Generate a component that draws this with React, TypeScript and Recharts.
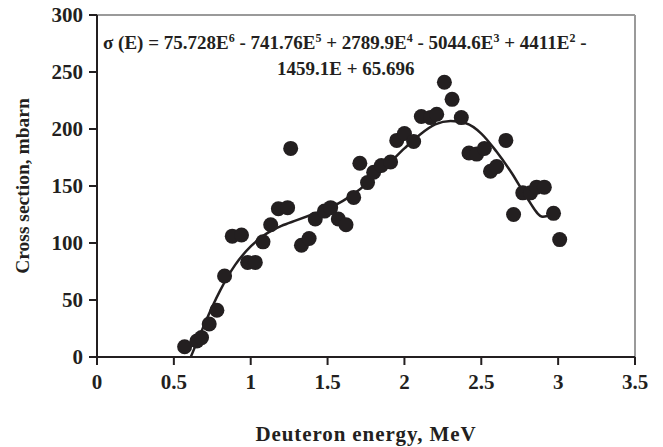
import React from "react";
import {
    ComposedChart,
    Scatter,
    Line,
    XAxis,
    YAxis,
    ReferenceLine,
} from "recharts";

if (typeof document !== "undefined") {
    document.body.style.margin = "0";
}

// measured cross sections (MeV, mbarn)
const energy = [
    0.57, 0.65, 0.68, 0.73, 0.78, 0.83, 0.88, 0.94, 0.98, 1.03,
    1.08, 1.13, 1.18, 1.24, 1.26, 1.33, 1.38, 1.42, 1.48, 1.52,
    1.57, 1.62, 1.67, 1.71, 1.76, 1.8, 1.85, 1.91, 1.95, 2.0,
    2.06, 2.11, 2.17, 2.21, 2.26, 2.31, 2.37, 2.42, 2.47, 2.52,
    2.56, 2.6, 2.66, 2.71, 2.77, 2.82, 2.86, 2.91, 2.97, 3.01,
];
const sigma = [
    9, 14, 17, 29, 41, 71, 106, 107, 83, 83,
    101, 116, 130, 131, 183, 98, 104, 121, 128, 131,
    121, 116, 140, 170, 153, 162, 168, 171, 190, 196,
    189, 211, 210, 213, 241, 226, 210, 179, 178, 183,
    163, 167, 190, 125, 144, 144, 149, 149, 126, 103,
];

// fitted trend line
const fitEnergy = [
    0.61, 0.65, 0.7, 0.8, 0.9, 1.0, 1.1, 1.2, 1.3, 1.4, 1.5, 1.6, 1.7,
    1.8, 1.9, 2.0, 2.1, 2.2, 2.3, 2.4, 2.5, 2.6, 2.7, 2.8, 2.9, 2.97,
];
const fitSigma = [
    0, 13, 29, 58, 81, 97, 108, 115, 120, 125, 130, 137, 146,
    158, 170, 183, 195, 204, 207, 205, 196, 180, 161, 139, 123, 126,
];

const xTicks = [0, 0.5, 1, 1.5, 2, 2.5, 3, 3.5];
const yTicks = [0, 50, 100, 150, 200, 250, 300];

const points = energy.map((x, i) => ({ x, y: sigma[i] }));
const fit = fitEnergy.map((x, i) => ({ x, fit: fitSigma[i] }));

const font = "'Liberation Serif', 'Times New Roman', serif";
const ink = "#231f20";

const tickStyle = { fill: ink, fontSize: 21, fontWeight: 700, fontFamily: font };

const supStyle: React.CSSProperties = { fontSize: 12, lineHeight: 0, verticalAlign: "7px" };

const eqStyle: React.CSSProperties = {
    position: "absolute",
    fontFamily: font,
    fontWeight: 700,
    fontSize: 19,
    color: ink,
    lineHeight: "19px",
    whiteSpace: "nowrap",
};

export default function App() {
    return (
        <div style={{ position: "relative", width: 663, height: 447, background: "#fff" }}>
            <ComposedChart
                width={663}
                height={447}
                margin={{ top: 15, right: 28, bottom: 0, left: 0 }}
            >
                <XAxis
                    type="number"
                    dataKey="x"
                    domain={[0, 3.5]}
                    ticks={xTicks}
                    height={90}
                    axisLine={{ stroke: ink, strokeWidth: 2 }}
                    tickLine={{ stroke: ink, strokeWidth: 2 }}
                    tickSize={8}
                    tickMargin={9}
                    tick={tickStyle}
                    label={{
                        value: "Deuteron energy, MeV",
                        position: "insideBottom",
                        offset: 6,
                        style: { fill: ink, fontSize: 21, fontWeight: 700, fontFamily: font, letterSpacing: 0.9 },
                    }}
                />
                <YAxis
                    type="number"
                    domain={[0, 300]}
                    ticks={yTicks}
                    width={97}
                    axisLine={{ stroke: ink, strokeWidth: 2 }}
                    tickLine={{ stroke: ink, strokeWidth: 2 }}
                    tickSize={8}
                    tickMargin={6}
                    tick={tickStyle}
                    label={{
                        content: (props: any) => {
                            const vb = props.viewBox || {};
                            const cx = (vb.x ?? 0) + 22;
                            const cy = (vb.y ?? 0) + (vb.height ?? 0) / 2;
                            return (
                                <text
                                    x={cx}
                                    y={cy}
                                    transform={`rotate(-90 ${cx} ${cy})`}
                                    textAnchor="middle"
                                    dominantBaseline="central"
                                    fill={ink}
                                    fontSize={19.5}
                                    fontWeight={700}
                                    fontFamily={font}
                                >
                                    Cross section, mbarn
                                </text>
                            );
                        },
                    }}
                />
                <ReferenceLine y={300} stroke="#9a9a9a" strokeWidth={2} />
                <ReferenceLine x={3.5} stroke="#9a9a9a" strokeWidth={2} />
                <Scatter
                    data={points}
                    dataKey="y"
                    fill={ink}
                    isAnimationActive={false}
                    shape={(p: any) => <circle cx={p.cx} cy={p.cy} r={7.5} fill={ink} />}
                />
                <Line
                    data={fit}
                    dataKey="fit"
                    type="monotone"
                    stroke={ink}
                    strokeWidth={2.5}
                    dot={false}
                    activeDot={false}
                    isAnimationActive={false}
                />
            </ComposedChart>
            <div style={{ ...eqStyle, left: 103, top: 33 }}>
                σ (E) = 75.728E<sup style={supStyle}>6</sup> - 741.76E<sup style={supStyle}>5</sup> + 2789.9E
                <sup style={supStyle}>4</sup> - 5044.6E<sup style={supStyle}>3</sup> + 4411E
                <sup style={supStyle}>2</sup> -
            </div>
            <div style={{ ...eqStyle, left: 277, top: 59 }}>1459.1E + 65.696</div>
        </div>
    );
}
